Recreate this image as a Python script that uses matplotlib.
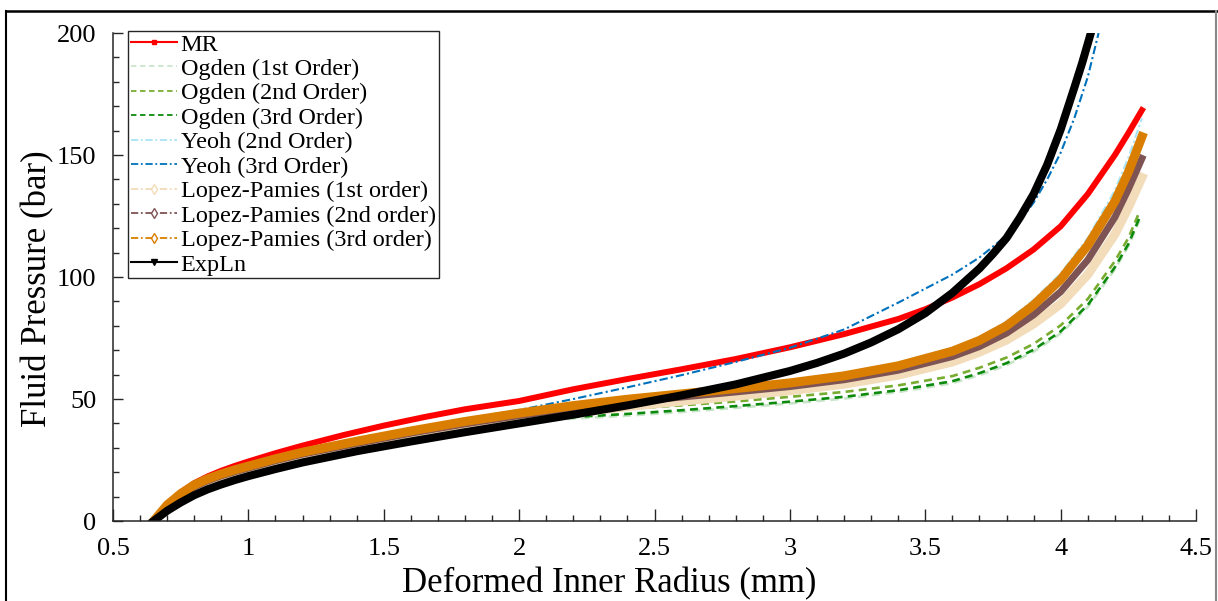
import matplotlib
matplotlib.use("Agg")
import matplotlib.pyplot as plt
from matplotlib.lines import Line2D
from matplotlib.ticker import MultipleLocator

plt.rcParams['font.family'] = ['Liberation Serif', 'DejaVu Serif']

# shared radius grid (mm) for the low-pressure part of the curves
x_base = [0.65, 0.7, 0.75, 0.8, 0.85, 0.9, 0.95, 1.0, 1.1, 1.2, 1.4, 1.6, 1.8, 2.0, 2.2, 2.4, 2.6,
          2.8, 3.0, 3.2, 3.4, 3.6, 3.7, 3.8, 3.9, 4.0]

# MR
x_mr = [0.65, 0.7, 0.75, 0.8, 0.85, 0.9, 0.95, 1.0, 1.1, 1.2, 1.35, 1.5, 1.65, 1.8, 2.0, 2.2, 2.4, 2.6,
        2.8, 3.0, 3.2, 3.4, 3.5, 3.6, 3.7, 3.8, 3.9, 4.0, 4.1, 4.2, 4.25, 4.3]
p_mr = [0, 6.9, 11.7, 15.5, 18.3, 20.6, 22.6, 24.4, 27.8, 30.9, 35.2, 39.1, 42.6, 45.8, 49.2, 54.0, 58.2, 62.2,
        66.4, 71.2, 76.6, 82.8, 86.8, 91.6, 97.1, 103.6, 111.3, 120.8, 134, 150, 159, 168.4]

# Ogden
x_ogden = x_base + [4.1, 4.2, 4.25, 4.29]
p_ogden1 = [0, 4.8, 8.1, 11.1, 13.5, 15.5, 17.3, 18.9, 21.8, 24.5, 29.1, 33.1, 36.9, 40.4, 42.0, 43.2, 44.7,
            46.4, 48.2, 50.2, 52.9, 56.5, 59.8, 63.9, 69.4, 76.9, 87.7, 103.2, 112.7, 123]
p_ogden2 = [0, 5.4, 9.8, 13.1, 15.5, 17.4, 19.0, 20.4, 23.2, 25.6, 29.9, 34.0, 37.8, 41.8, 44.3, 46.0, 47.4,
            49.0, 50.9, 52.9, 55.6, 59.4, 62.8, 67.0, 72.6, 80.2, 91.0, 106.5, 116, 126.5]
p_ogden3 = [0, 5.0, 8.4, 11.4, 13.8, 15.8, 17.6, 19.2, 22.1, 24.8, 29.4, 33.4, 37.2, 40.7, 42.6, 43.9, 45.4,
            47.1, 48.9, 50.9, 53.6, 57.3, 60.6, 64.7, 70.2, 77.7, 88.5, 104, 113.5, 124]

# Yeoh
x_yeoh2 = x_base + [4.1, 4.2, 4.25, 4.3]
p_yeoh2 = [0, 7.0, 11.7, 15.3, 17.8, 19.9, 21.6, 23.1, 26.1, 28.8, 33.3, 37.5, 41.4, 44.8, 47.9, 50.5, 52.7,
           54.9, 57.2, 60.2, 64.5, 70.8, 75.4, 81.8, 90.6, 101.5, 116, 135.5, 149, 165]
x_yeoh3 = [0.65, 0.7, 0.75, 0.8, 0.85, 0.9, 0.95, 1.0, 1.1, 1.2, 1.4, 1.6, 1.8, 2.0, 2.2, 2.4, 2.6,
           2.8, 3.0, 3.2, 3.4, 3.6, 3.7, 3.8, 3.85, 3.9, 3.95, 4.0, 4.05, 4.1, 4.14]
p_yeoh3 = [0, 7.0, 11.8, 15.5, 18.1, 20.2, 21.9, 23.4, 26.4, 29.1, 33.6, 37.8, 41.8, 45.5, 50.0, 54.8, 59.8,
           65.2, 71.0, 78.5, 89.5, 101, 108, 117, 123, 130.5, 140, 151, 165, 182, 200]

# Lopez-Pamies
x_lp = x_base + [4.1, 4.2, 4.25, 4.3]
p_lp1 = [0, 5.4, 9.8, 13.1, 15.5, 17.4, 19.0, 20.4, 23.2, 25.6, 29.9, 34.0, 37.8, 41.2, 44.2, 46.9, 49.1,
         51.2, 53.4, 56.1, 59.8, 65.2, 69.2, 74.2, 80.8, 89, 101, 117.5, 128.5, 140.8]
p_lp2 = [0, 6.0, 10.5, 14, 16.5, 18.5, 20.2, 21.7, 24.7, 27.4, 31.8, 36, 39.8, 43.2, 46.2, 48.7, 50.8,
         52.9, 55.1, 57.9, 61.8, 67.4, 71.5, 77, 84.5, 94, 107, 124.5, 136, 148.6]
p_lp3 = [0, 6.6, 11.2, 14.8, 17.3, 19.3, 21.0, 22.5, 25.5, 28.2, 32.7, 36.9, 40.8, 44.2, 47.3, 49.9, 52.1,
         54.3, 56.6, 59.5, 63.6, 69.6, 74, 80, 88.5, 99, 113, 131, 143, 157.5]

# ExpLn
x_expln = [0.65, 0.7, 0.75, 0.8, 0.85, 0.9, 0.95, 1.0, 1.1, 1.2, 1.4, 1.6, 1.8, 2.0, 2.2, 2.4, 2.6, 2.8,
           3.0, 3.1, 3.2, 3.3, 3.4, 3.5, 3.6, 3.7, 3.75, 3.8, 3.85, 3.9, 3.95, 4.0, 4.05, 4.08, 4.11]
p_expln = [0, 4.2, 7.6, 10.6, 13.0, 15.0, 16.8, 18.4, 21.3, 24.0, 28.6, 32.6, 36.4, 40.0, 43.6, 47.4, 51.5, 56.0,
           61.5, 64.8, 68.6, 73.2, 78.6, 85.2, 93.5, 103.5, 109.5, 116, 124.5, 134, 146, 160.5, 177.5, 188, 199.5]

fig = plt.figure(figsize=(12.18, 6.01), dpi=100)
ax = fig.add_axes([0.0928, 0.1331, 0.8892, 0.8119])

c_og1, c_og2, c_og3 = '#c9e5c9', '#77ac30', '#0b8a0b'
c_y2, c_y3 = '#a9e4f7', '#0072bd'
c_lp1, c_lp2, c_lp3 = '#f2dcb9', '#7e5353', '#d97e00'
dash = (0, (3, 2))
dd = (0, (4, 1.5, 1, 1.5))

ax.plot(x_mr, p_mr, color='red', lw=4.3)
ax.plot(x_ogden, p_ogden1, color=c_og1, lw=2.0, ls=dash)
ax.plot(x_ogden, p_ogden2, color=c_og2, lw=1.9, ls=dash)
ax.plot(x_ogden, p_ogden3, color=c_og3, lw=1.9, ls=dash)
ax.plot(x_yeoh2, p_yeoh2, color=c_y2, lw=1.5, ls=dd)
ax.plot(x_yeoh3, p_yeoh3, color=c_y3, lw=1.5, ls=dd)
ax.plot(x_lp, p_lp1, color=c_lp1, lw=6.5)
ax.plot(x_lp, p_lp2, color=c_lp2, lw=5)
ax.plot(x_lp, p_lp3, color=c_lp3, lw=6.5)
ax.plot(x_expln, p_expln, color='black', lw=5.8)

ax.set_xlim(0.5, 4.5)
ax.set_ylim(0, 200)
ax.xaxis.set_minor_locator(MultipleLocator(0.1))
ax.yaxis.set_major_locator(MultipleLocator(50))
ax.yaxis.set_minor_locator(MultipleLocator(10))
ax.set_xticks([0.5, 1, 1.5, 2, 2.5, 3, 3.5, 4, 4.5])
ax.set_xticklabels(['0.5', '1', '1.5', '2', '2.5', '3', '3.5', '4', '4.5'])
ax.tick_params(which='both', direction='in', colors='#262626', labelcolor='black', width=1)
ax.tick_params(axis='x', which='major', length=8.5, pad=12, labelsize=19)
ax.tick_params(axis='x', which='minor', length=4.5)
ax.tick_params(axis='y', which='major', length=7.5, pad=12, labelsize=19)
ax.tick_params(axis='y', which='minor', length=4.5)
for s in ['top', 'right']:
    ax.spines[s].set_visible(False)
for s in ['left', 'bottom']:
    ax.spines[s].set_color('#262626')
    ax.spines[s].set_linewidth(1.1)

ax.set_xlabel('Deformed Inner Radius (mm)', fontsize=25)
ax.set_ylabel('Fluid Pressure (bar)', fontsize=25)
ax.xaxis.set_label_coords(0.458, -0.094)
ax.yaxis.set_label_coords(-0.054, 0.477)

handles = [
    Line2D([], [], color='red', lw=1.5, marker='s', ms=3.5),
    Line2D([], [], color=c_og1, lw=1.3, ls=dash),
    Line2D([], [], color=c_og2, lw=1.3, ls=dash),
    Line2D([], [], color=c_og3, lw=1.3, ls=dash),
    Line2D([], [], color=c_y2, lw=1.3, ls=dd),
    Line2D([], [], color=c_y3, lw=1.3, ls=dd),
    Line2D([], [], color=c_lp1, lw=1.3, ls=dd, marker='d', ms=5, mfc='white'),
    Line2D([], [], color=c_lp2, lw=1.3, ls=dd, marker='d', ms=5, mfc='white'),
    Line2D([], [], color=c_lp3, lw=1.3, ls=dd, marker='d', ms=5, mfc='white'),
    Line2D([], [], color='black', lw=1.5, marker='v', ms=5),
]
labels = ['MR', 'Ogden (1st Order)', 'Ogden (2nd Order)', 'Ogden (3rd Order)',
          'Yeoh (2nd Order)', 'Yeoh (3rd Order)', 'Lopez-Pamies (1st order)',
          'Lopez-Pamies (2nd order)', 'Lopez-Pamies (3rd order)', 'ExpLn']
leg = ax.legend(handles, labels, loc='upper left', bbox_to_anchor=(0.0138, 1.005),
                fontsize=17.5, labelspacing=0.1, handlelength=1.9, handletextpad=0.15,
                borderpad=0.12, borderaxespad=0, fancybox=False, framealpha=1)
leg.get_frame().set_edgecolor('#262626')
leg.get_frame().set_linewidth(1.0)

# frame around the figure
W, H = 1218, 601
fig.add_artist(Line2D([6 / W, 6 / W], [0, 1 - 11 / H], color='black', lw=1.5, transform=fig.transFigure))
fig.add_artist(Line2D([6 / W, 1], [1 - 11 / H, 1 - 11 / H], color='black', lw=1.8, transform=fig.transFigure))
fig.add_artist(Line2D([1216 / W, 1216 / W], [0, 1 - 11 / H], color='#888888', lw=1.5, transform=fig.transFigure))

fig.savefig('out.png', dpi=100)
